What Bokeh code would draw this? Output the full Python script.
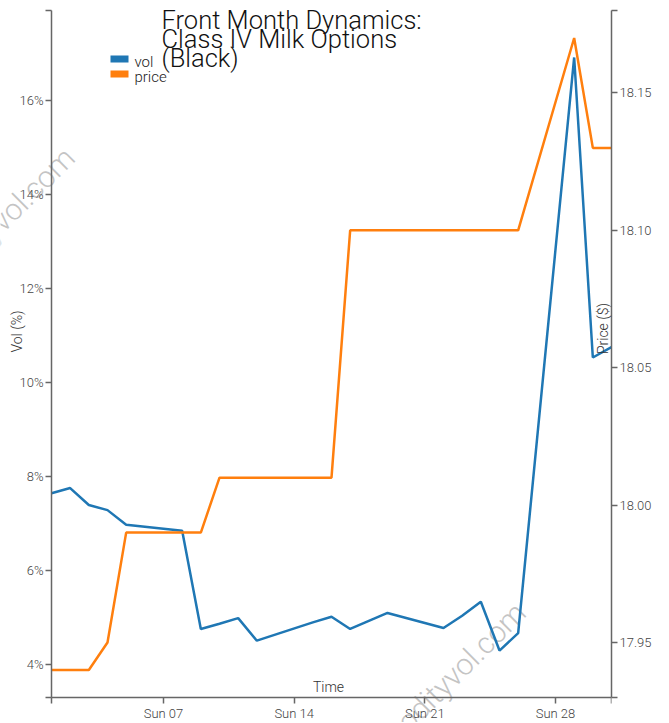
import pandas as pd
from bokeh.plotting import figure
from bokeh.models import (Range1d, LinearAxis, FixedTicker, PrintfTickFormatter,
                          DatetimeTickFormatter, Label, BoxAnnotation, ColumnDataSource)
from bokeh.embed import file_html
from bokeh.resources import INLINE
import math

# ---------------- data ----------------
dates = ["2021-03-01", "2021-03-02", "2021-03-03", "2021-03-04", "2021-03-05",
         "2021-03-08", "2021-03-09", "2021-03-10", "2021-03-11", "2021-03-12",
         "2021-03-15", "2021-03-16", "2021-03-17", "2021-03-18", "2021-03-19",
         "2021-03-22", "2021-03-23", "2021-03-24", "2021-03-25", "2021-03-26",
         "2021-03-29", "2021-03-30", "2021-03-31"]
vol = [7.64, 7.75, 7.39, 7.28, 6.97,
       6.84, 4.75, 4.86, 4.98, 4.50,
       4.89, 5.01, 4.75, 4.92, 5.09,
       4.77, 5.03, 5.33, 4.29, 4.66,
       16.92, 10.53, 10.75]
price = [17.94, 17.94, 17.94, 17.95, 17.99,
         17.99, 17.99, 18.01, 18.01, 18.01,
         18.01, 18.01, 18.10, 18.10, 18.10,
         18.10, 18.10, 18.10, 18.10, 18.10,
         18.17, 18.13, 18.13]
x_ticks = ["2021-03-07", "2021-03-14", "2021-03-21", "2021-03-28"]
vol_ticks = [4, 6, 8, 10, 12, 14, 16]
price_ticks = [17.95, 18.00, 18.05, 18.10, 18.15]
series_names = ["vol", "price"]
title_lines = ["Front Month Dynamics:", "Class IV Milk Options", "(Black)"]
watermark = "commodityvol.com"

BLUE = "#1f77b4"
ORANGE = "#ff7f0e"
FONT = "'Roboto Light', Roboto"

dt = pd.to_datetime(dates)
src = ColumnDataSource(dict(date=dt, vol=vol, price=price))

def ms(t):
    return pd.Timestamp(t).value / 1e6

x_start = ms("2021-03-01")
x_end = ms("2021-03-31")
vmin, vmax = min(vol) - 1, max(vol) + 1
pmin, pmax = min(price) - 0.01, max(price) + 0.01

# page-pixel geometry of the axes box
FX0, FX1, FY0, FY1 = 51, 611, 10, 697
W, H = 663, 722
def xd(px):
    return x_start + (px - FX0) / (FX1 - FX0) * (x_end - x_start)
def yd(py):
    return vmin + (FY1 - py) / (FY1 - FY0) * (vmax - vmin)
def pd_(py):
    return pmin + (FY1 - py) / (FY1 - FY0) * (pmax - pmin)

# the frame covers the page (except the right axis panel) so that texts
# beyond the axes box are not clipped; the axes are pinned to the box
p = figure(width=W, height=H, x_axis_type="datetime",
           x_range=Range1d(xd(0), x_end), y_range=Range1d(yd(H), yd(0)),
           output_backend="svg", toolbar_location=None,
           min_border_left=0, min_border_top=0, min_border_right=W - FX1, min_border_bottom=0)
p.extra_y_ranges = {"price": Range1d(pd_(H), pd_(0))}
p.outline_line_color = None
p.xgrid.visible = False
p.ygrid.visible = False
p.background_fill_color = "white"
p.border_fill_color = "white"

def style_axis(ax):
    ax.axis_line_color = "#666666"
    ax.axis_line_width = 1.5
    ax.major_tick_line_color = "#666666"
    ax.major_tick_line_width = 1.5
    ax.minor_tick_line_color = "#666666"
    ax.minor_tick_line_width = 1.5
    ax.major_tick_in = 0
    ax.major_tick_out = 6
    ax.minor_tick_in = 0
    ax.minor_tick_out = 6
    ax.major_label_standoff = 2
    ax.major_label_text_font = FONT
    ax.major_label_text_font_size = "13px"
    ax.major_label_text_color = "#444444"

# x axis pinned at the bottom of the vol range
xa = p.xaxis[0]
xa.ticker = FixedTicker(ticks=[ms(t) for t in x_ticks], minor_ticks=[x_start, x_end])
xa.bounds = (x_start, x_end)
xa.fixed_location = vmin
fmt = "%a %d"
xa.formatter = DatetimeTickFormatter(days=fmt, months=fmt, years=fmt, hours=fmt, minutes=fmt,
                                     hourmin=fmt, seconds=fmt, milliseconds=fmt,
                                     microseconds=fmt, minsec=fmt)
style_axis(xa)

# left (vol) axis pinned at the first date
ya = p.yaxis[0]
ya.ticker = FixedTicker(ticks=vol_ticks, minor_ticks=[vmin, vmax])
ya.formatter = PrintfTickFormatter(format="%d%%")
ya.bounds = (vmin, vmax)
ya.fixed_location = x_start
style_axis(ya)

# right (price) axis
ra = LinearAxis(y_range_name="price")
ra.ticker = FixedTicker(ticks=price_ticks, minor_ticks=[pmin, pmax])
ra.formatter = PrintfTickFormatter(format="%.2f")
ra.bounds = (pmin, pmax)
style_axis(ra)
p.add_layout(ra, "right")

# watermarks (under the lines)
wm_style = dict(text=watermark, text_font=FONT, text_font_size="30px",
                text_color="#c4c4c4", angle=math.pi / 4,
                text_align="right", text_baseline="middle", level="underlay")
p.add_layout(Label(x=xd(69), y=yd(152), **wm_style))
p.add_layout(Label(x=xd(520), y=yd(607), **wm_style))

# lines
r_vol = p.line("date", "vol", source=src, line_color=BLUE, line_width=2.5)
r_price = p.line("date", "price", source=src, line_color=ORANGE, line_width=2.5,
                 y_range_name="price")

# legend: swatches + labels
for name, col, top in zip(series_names, [BLUE, ORANGE], [55, 70]):
    p.add_layout(BoxAnnotation(left=xd(110), right=xd(128), top=yd(top), bottom=yd(top + 7),
                               fill_color=col, fill_alpha=1, line_color=None, level="overlay"))
    p.add_layout(Label(x=xd(134), y=yd(top + 6), text=name, text_font=FONT,
                       text_font_size="15px", text_color="#222222",
                       text_baseline="alphabetic", text_align="left"))

# title
for line, base in zip(title_lines, [19, 38, 57]):
    p.add_layout(Label(x=xd(161), y=yd(base), text=line, text_font=FONT,
                       text_font_size="25.5px", text_color="#111111",
                       text_baseline="alphabetic", text_align="left"))

# axis titles
p.add_layout(Label(x=xd(328), y=yd(686), text="Time", text_font=FONT,
                   text_font_size="14px", text_color="#333333",
                   text_align="center", text_baseline="alphabetic"))
p.add_layout(Label(x=xd(16), y=yd(331), text="Vol (%)", text_font=FONT,
                   text_font_size="14px", text_color="#333333", angle=math.pi / 2,
                   text_align="center", text_baseline="alphabetic"))
p.add_layout(Label(x=xd(602), y=yd(328), text="Price ($)", text_font=FONT,
                   text_font_size="14px", text_color="#333333", angle=math.pi / 2,
                   text_align="center", text_baseline="alphabetic"))

open("out.html", "w").write(file_html(p, INLINE))
